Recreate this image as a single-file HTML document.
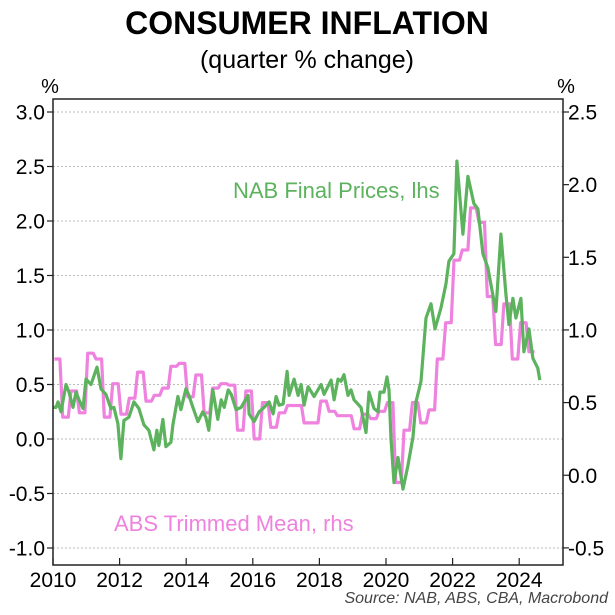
<!DOCTYPE html>
<html><head><meta charset="utf-8"><style>
html,body{margin:0;padding:0;background:#fff;}
svg{display:block;font-family:"Liberation Sans",Arial,sans-serif;}
</style></head><body>
<svg id="chart" width="615" height="615" viewBox="0 0 615 615" xmlns="http://www.w3.org/2000/svg">
<text x="307" y="34" text-anchor="middle" font-size="32" font-weight="bold">CONSUMER INFLATION</text>
<text x="307" y="68" text-anchor="middle" font-size="25">(quarter % change)</text>
<text x="50" y="93" text-anchor="middle" font-size="20">%</text>
<text x="566" y="93" text-anchor="middle" font-size="20">%</text>
<g id="grid"></g>
<g id="series"></g>
<rect x="53" y="99" width="510" height="466" fill="none" stroke="#222" stroke-width="1.5"/>
<g id="axes"></g>
<text x="233" y="198" font-size="22" fill="#5cb25d">NAB Final Prices, lhs</text>
<text x="114" y="531" font-size="22" fill="#ee82de">ABS Trimmed Mean, rhs</text>
<text x="608" y="603" text-anchor="end" font-size="16" font-style="italic" fill="#444">Source: NAB, ABS, CBA, Macrobond</text>
</svg>
<script>
const leftTicks = [3.0, 2.5, 2.0, 1.5, 1.0, 0.5, 0.0, -0.5, -1.0];
const rightTicks = [2.5, 2.0, 1.5, 1.0, 0.5, 0.0, -0.5];
const yearTicks = [2010, 2012, 2014, 2016, 2018, 2020, 2022, 2024];
const absStartYear = 2010;
const absValues = [0.8,0.4,0.58,0.43,0.84,0.8,0.4,0.63,0.42,0.53,0.71,0.51,0.55,0.6,0.75,0.77,0.54,0.69,0.43,0.6,0.63,0.62,0.31,0.58,0.25,0.5,0.33,0.43,0.48,0.48,0.36,0.36,0.51,0.44,0.41,0.41,0.32,0.42,0.39,0.44,0.5,-0.05,0.31,0.5,0.36,0.45,0.8,1.05,1.48,1.55,1.84,1.74,1.23,0.9,1.18,0.8,1.05,0.85];
const nabDates = [2010.0,2010.09,2010.15,2010.24,2010.39,2010.48,2010.6,2010.69,2010.78,2010.9,2010.99,2011.14,2011.32,2011.44,2011.59,2011.74,2011.83,2011.95,2012.04,2012.13,2012.28,2012.43,2012.58,2012.73,2012.88,2013.03,2013.12,2013.18,2013.3,2013.39,2013.54,2013.6,2013.75,2013.84,2013.99,2014.08,2014.2,2014.35,2014.5,2014.59,2014.68,2014.8,2014.95,2015.05,2015.14,2015.26,2015.35,2015.5,2015.65,2015.86,2015.89,2016.04,2016.19,2016.34,2016.49,2016.61,2016.7,2016.79,2016.91,2017.03,2017.09,2017.24,2017.36,2017.45,2017.54,2017.66,2017.84,2018.05,2018.14,2018.35,2018.44,2018.56,2018.65,2018.74,2018.86,2018.95,2019.04,2019.25,2019.4,2019.49,2019.64,2019.76,2019.82,2019.94,2020.03,2020.09,2020.15,2020.24,2020.36,2020.51,2020.66,2020.81,2020.9,2021.05,2021.2,2021.35,2021.47,2021.65,2021.8,2021.89,2022.04,2022.13,2022.31,2022.46,2022.64,2022.76,2022.91,2023.06,2023.3,2023.45,2023.6,2023.69,2023.81,2023.9,2024.05,2024.14,2024.29,2024.41,2024.56,2024.62];
const nabValues = [0.29,0.29,0.34,0.25,0.5,0.43,0.29,0.43,0.36,0.28,0.55,0.5,0.66,0.46,0.41,0.28,0.29,0.14,-0.18,0.17,0.2,0.34,0.28,0.13,0.08,-0.1,0.08,-0.06,0.18,-0.07,-0.03,0.13,0.39,0.27,0.46,0.4,0.29,0.16,0.25,0.2,0.08,0.45,0.18,0.36,0.29,0.45,0.41,0.27,0.29,0.4,0.23,0.16,0.25,0.29,0.34,0.23,0.39,0.31,0.32,0.62,0.4,0.55,0.4,0.5,0.31,0.48,0.39,0.5,0.41,0.54,0.36,0.55,0.53,0.59,0.4,0.45,0.36,0.29,0.06,0.43,0.28,0.25,0.43,0.43,0.57,0.45,0.0,-0.4,-0.17,-0.46,-0.24,0.02,0.34,0.53,1.11,1.24,1.01,1.2,1.42,1.63,1.7,2.55,1.88,2.41,2.16,2.11,1.7,1.57,1.17,1.88,1.33,1.05,1.29,1.11,1.29,0.8,1.01,0.74,0.65,0.54];

const X0=53, X1=563, Y0=99, Y1=565;
const xScale = t => 53 + (t-2010)*33.3;
const yLeft = v => 112 + (3.0-v)*109;
const yRight = v => 112 + (2.5-v)*145.3;
const NS="http://www.w3.org/2000/svg";
function mk(tag, attrs, parent){const e=document.createElementNS(NS,tag);for(const k in attrs)e.setAttribute(k,attrs[k]);parent.appendChild(e);return e;}
const grid=document.getElementById('grid'), axes=document.getElementById('axes'), series=document.getElementById('series');

leftTicks.forEach(v=>{
  const y=yLeft(v);
  const g=mk('line',{x1:X0,x2:X1,y1:y,y2:y,stroke:'#bbb','stroke-width':1,'stroke-dasharray':'2,2'},grid);
  
  
  const t=mk('line',{x1:X0-6,x2:X0,y1:y,y2:y,stroke:'#222','stroke-width':1.2},axes);
  
  
  const l=mk('text',{x:X0-8,y:y+7.5,'text-anchor':'end','font-size':21},axes);
  
  
  l.textContent=v.toFixed(1);
});
rightTicks.forEach(v=>{
  const y=yRight(v);
  const t=mk('line',{x1:X1,x2:X1+6,y1:y,y2:y,stroke:'#222','stroke-width':1.2},axes);
  
  
  const l=mk('text',{x:X1+5,y:y+7.5,'font-size':21},axes);
  
  
  l.textContent=v.toFixed(1);
});
yearTicks.forEach(yr=>{
  const x=xScale(yr);
  const t=mk('line',{x1:x,x2:x,y1:Y1-7,y2:Y1,stroke:'#222','stroke-width':1.2},axes);
  
  
  const l=mk('text',{x:x,y:587,'text-anchor':'middle','font-size':21},axes);
  
  
  l.textContent=yr;
});

let absPts=[];
absValues.forEach((v,i)=>{
  const s=absStartYear+i/4, e=absStartYear+(i+1)/4;
  absPts.push(xScale(s+1/24).toFixed(1)+','+yRight(v).toFixed(1));
  absPts.push(xScale(e-1/24).toFixed(1)+','+yRight(v).toFixed(1));
});
const abs=mk('polyline',{points:absPts.join(' '),fill:'none',stroke:'#ee82de','stroke-width':3.2,'stroke-linejoin':'round'},series);



const nabPts=nabDates.map((d,i)=>xScale(d).toFixed(1)+','+yLeft(nabValues[i]).toFixed(1));
const nab=mk('polyline',{points:nabPts.join(' '),fill:'none',stroke:'#5cb25d','stroke-width':3.2,'stroke-linejoin':'round'},series);


</script>
</body></html>
